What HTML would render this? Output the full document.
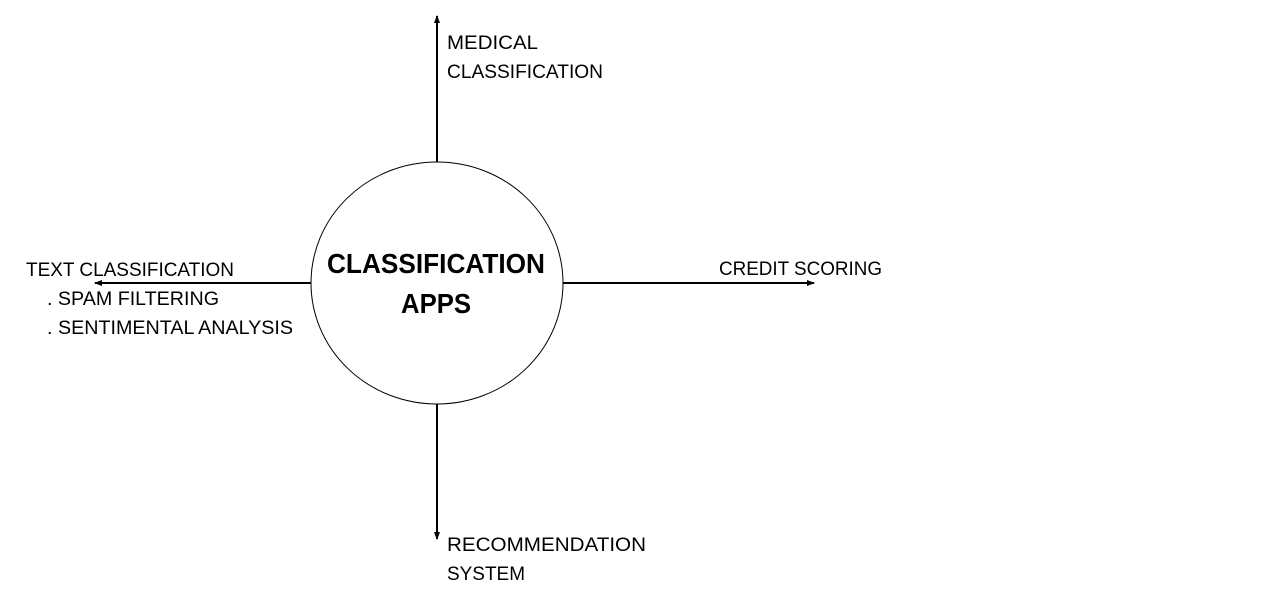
<!DOCTYPE html>
<html><head><meta charset="utf-8"><style>
html,body{margin:0;padding:0;background:#fff;}
svg{display:block;}
text{font-family:"Liberation Sans",sans-serif;fill:#000;}
.l{font-size:19px;}
.b{font-size:28px;font-weight:bold;}
</style></head><body>
<svg width="1280" height="604" viewBox="0 0 1280 604" xmlns="http://www.w3.org/2000/svg">
<defs><marker id="a" markerWidth="8" markerHeight="8" refX="7" refY="4" orient="auto" markerUnits="userSpaceOnUse"><path d="M0,1 L8,4 L0,7 z" fill="#000"/></marker></defs>
<ellipse cx="437" cy="283" rx="126" ry="121" fill="#fff" stroke="#000" stroke-width="1"/>
<line x1="437" y1="162" x2="437" y2="16" stroke="#000" stroke-width="2" marker-end="url(#a)"/>
<line x1="437" y1="404" x2="437" y2="539" stroke="#000" stroke-width="2" marker-end="url(#a)"/>
<line x1="311" y1="283" x2="95" y2="283" stroke="#000" stroke-width="2" marker-end="url(#a)"/>
<line x1="563" y1="283" x2="814" y2="283" stroke="#000" stroke-width="2" marker-end="url(#a)"/>
<text class="b" x="327" y="273" textLength="218" lengthAdjust="spacingAndGlyphs">CLASSIFICATION</text>
<text class="b" x="401" y="313" textLength="70" lengthAdjust="spacingAndGlyphs">APPS</text>
<text class="l" x="447" y="49" textLength="91" lengthAdjust="spacingAndGlyphs">MEDICAL</text>
<text class="l" x="447" y="78" textLength="156" lengthAdjust="spacingAndGlyphs">CLASSIFICATION</text>
<text class="l" x="26" y="276" textLength="208" lengthAdjust="spacingAndGlyphs">TEXT CLASSIFICATION</text>
<text class="l" x="47" y="305" textLength="172" lengthAdjust="spacingAndGlyphs">. SPAM FILTERING</text>
<text class="l" x="47" y="334" textLength="246" lengthAdjust="spacingAndGlyphs">. SENTIMENTAL ANALYSIS</text>
<text class="l" x="719" y="275" textLength="163" lengthAdjust="spacingAndGlyphs">CREDIT SCORING</text>
<text class="l" x="447" y="551" textLength="199" lengthAdjust="spacingAndGlyphs">RECOMMENDATION</text>
<text class="l" x="447" y="580" textLength="78" lengthAdjust="spacingAndGlyphs">SYSTEM</text>
</svg>
</body></html>
